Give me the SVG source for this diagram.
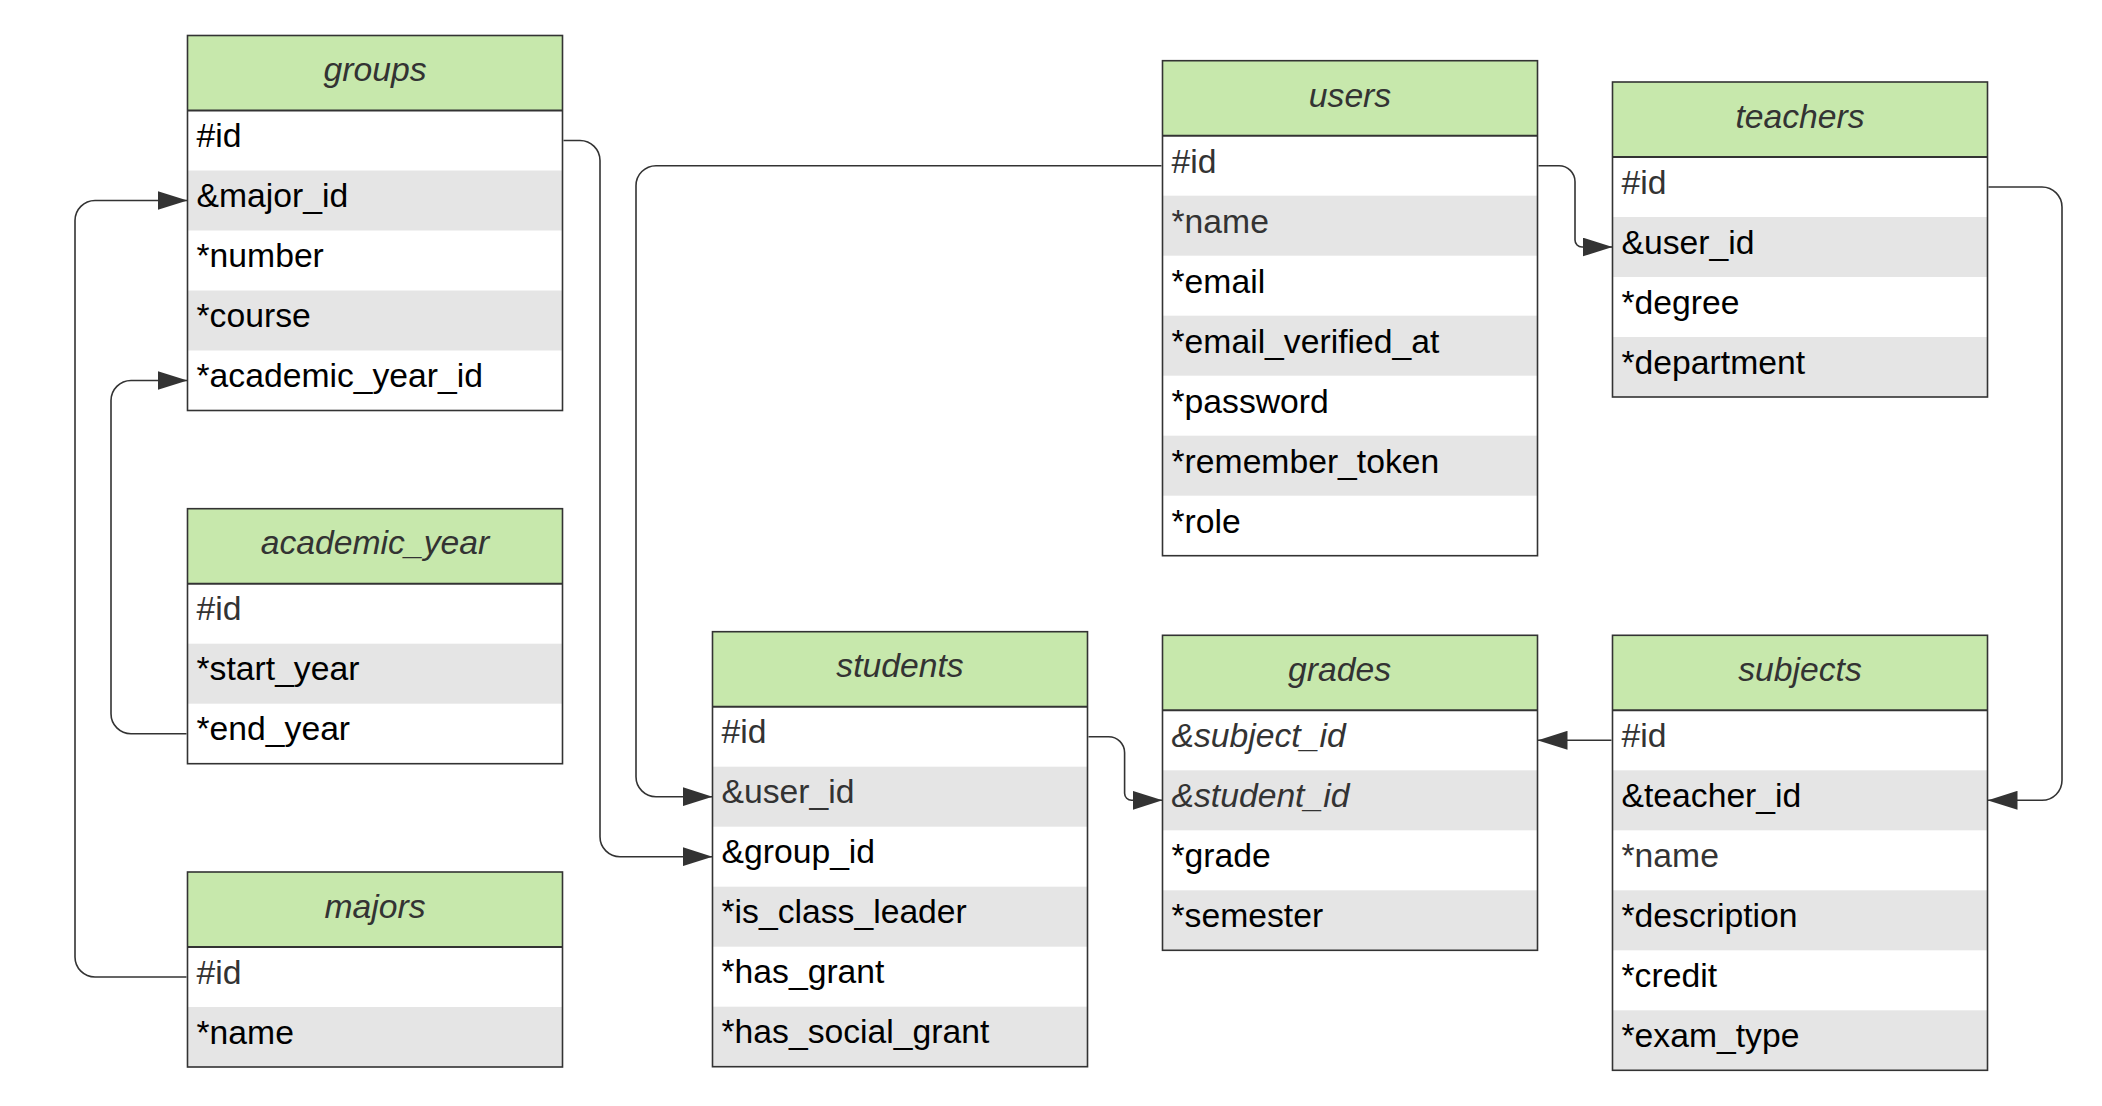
<svg xmlns="http://www.w3.org/2000/svg" width="2102" height="1106" viewBox="0 0 2102 1106">
<defs>
<style>
.bg{fill:#fff}
.hdr{fill:#c7e8ac}
.alt{fill:#e5e5e5}
.frame{fill:none;stroke:#333;stroke-width:1.6}
.sep{stroke:#333;stroke-width:2}
.title{font-family:"Liberation Sans",Arial,sans-serif;font-size:33.7px;font-style:italic;fill:#333;text-anchor:middle}
.f{font-family:"Liberation Sans",Arial,sans-serif;font-size:33.7px;fill:#000}
.g{fill:#333}
.it{font-style:italic}
.conn{fill:none;stroke:#333;stroke-width:1.6}
</style>
<marker id="arr" markerUnits="userSpaceOnUse" markerWidth="30" markerHeight="19" viewBox="0 0 30 19" refX="30" refY="9.5" orient="auto">
<path d="M0,0 L30,9.5 L0,19 z" fill="#333"/>
</marker>
</defs>
<rect width="2102" height="1106" fill="#fff"/>

<g id="groups" transform="translate(187.5,35.5)">
<rect class="bg" width="375" height="375"/>
<rect class="hdr" width="375" height="75"/>
<rect class="alt" y="135" width="375" height="60"/>
<rect class="alt" y="255" width="375" height="60"/>
<line class="sep" x1="0" y1="75" x2="375" y2="75"/>
<rect class="frame" width="375" height="375"/>
<text class="title" x="187.5" y="45.5">groups</text>
<text class="f" x="9" y="111.7">#id</text>
<text class="f" x="9" y="171.7">&amp;major_id</text>
<text class="f" x="9" y="231.7">*number</text>
<text class="f" x="9" y="291.7">*course</text>
<text class="f" x="9" y="351.7">*academic_year_id</text>
</g>

<g id="academic_year" transform="translate(187.5,508.7)">
<rect class="bg" width="375" height="255"/>
<rect class="hdr" width="375" height="75"/>
<rect class="alt" y="135" width="375" height="60"/>
<line class="sep" x1="0" y1="75" x2="375" y2="75"/>
<rect class="frame" width="375" height="255"/>
<text class="title" x="187.5" y="45.5">academic_year</text>
<text class="f g" x="9" y="111.7">#id</text>
<text class="f" x="9" y="171.7">*start_year</text>
<text class="f" x="9" y="231.7">*end_year</text>
</g>

<g id="majors" transform="translate(187.5,872)">
<rect class="bg" width="375" height="195"/>
<rect class="hdr" width="375" height="75"/>
<rect class="alt" y="135" width="375" height="60"/>
<line class="sep" x1="0" y1="75" x2="375" y2="75"/>
<rect class="frame" width="375" height="195"/>
<text class="title" x="187.5" y="45.5">majors</text>
<text class="f g" x="9" y="111.7">#id</text>
<text class="f" x="9" y="171.7">*name</text>
</g>

<g id="students" transform="translate(712.5,631.7)">
<rect class="bg" width="375" height="435"/>
<rect class="hdr" width="375" height="75"/>
<rect class="alt" y="135" width="375" height="60"/>
<rect class="alt" y="255" width="375" height="60"/>
<rect class="alt" y="375" width="375" height="60"/>
<line class="sep" x1="0" y1="75" x2="375" y2="75"/>
<rect class="frame" width="375" height="435"/>
<text class="title" x="187.5" y="45.5">students</text>
<text class="f g" x="9" y="111.7">#id</text>
<text class="f g" x="9" y="171.7">&amp;user_id</text>
<text class="f" x="9" y="231.7">&amp;group_id</text>
<text class="f" x="9" y="291.7">*is_class_leader</text>
<text class="f" x="9" y="351.7">*has_grant</text>
<text class="f" x="9" y="411.7">*has_social_grant</text>
</g>

<g id="users" transform="translate(1162.5,60.7)">
<rect class="bg" width="375" height="495"/>
<rect class="hdr" width="375" height="75"/>
<rect class="alt" y="135" width="375" height="60"/>
<rect class="alt" y="255" width="375" height="60"/>
<rect class="alt" y="375" width="375" height="60"/>
<line class="sep" x1="0" y1="75" x2="375" y2="75"/>
<rect class="frame" width="375" height="495"/>
<text class="title" x="187.5" y="46">users</text>
<text class="f g" x="9" y="112.2">#id</text>
<text class="f g" x="9" y="172.2">*name</text>
<text class="f" x="9" y="232.2">*email</text>
<text class="f" x="9" y="292.2">*email_verified_at</text>
<text class="f" x="9" y="352.2">*password</text>
<text class="f" x="9" y="412.2">*remember_token</text>
<text class="f" x="9" y="472.2">*role</text>
</g>

<g id="teachers" transform="translate(1612.5,82)">
<rect class="bg" width="375" height="315"/>
<rect class="hdr" width="375" height="75"/>
<rect class="alt" y="135" width="375" height="60"/>
<rect class="alt" y="255" width="375" height="60"/>
<line class="sep" x1="0" y1="75" x2="375" y2="75"/>
<rect class="frame" width="375" height="315"/>
<text class="title" x="187.5" y="46">teachers</text>
<text class="f g" x="9" y="112.2">#id</text>
<text class="f" x="9" y="172.2">&amp;user_id</text>
<text class="f" x="9" y="232.2">*degree</text>
<text class="f" x="9" y="292.2">*department</text>
</g>

<g id="grades" transform="translate(1162.5,635.3)">
<rect class="bg" width="375" height="315"/>
<rect class="hdr" width="375" height="75"/>
<rect class="alt" y="135" width="375" height="60"/>
<rect class="alt" y="255" width="375" height="60"/>
<line class="sep" x1="0" y1="75" x2="375" y2="75"/>
<rect class="frame" width="375" height="315"/>
<text class="title" x="177" y="45.5">grades</text>
<text class="f g it" x="9" y="111.7">&amp;subject_id</text>
<text class="f g it" x="9" y="171.7">&amp;student_id</text>
<text class="f" x="9" y="231.7">*grade</text>
<text class="f" x="9" y="291.7">*semester</text>
</g>

<g id="subjects" transform="translate(1612.5,635.3)">
<rect class="bg" width="375" height="435"/>
<rect class="hdr" width="375" height="75"/>
<rect class="alt" y="135" width="375" height="60"/>
<rect class="alt" y="255" width="375" height="60"/>
<rect class="alt" y="375" width="375" height="60"/>
<line class="sep" x1="0" y1="75" x2="375" y2="75"/>
<rect class="frame" width="375" height="435"/>
<text class="title" x="187.5" y="45.5">subjects</text>
<text class="f g" x="9" y="111.7">#id</text>
<text class="f" x="9" y="171.7">&amp;teacher_id</text>
<text class="f g" x="9" y="231.7">*name</text>
<text class="f" x="9" y="291.7">*description</text>
<text class="f" x="9" y="351.7">*credit</text>
<text class="f" x="9" y="411.7">*exam_type</text>
</g>

<g id="connectors">
<path class="conn" marker-end="url(#arr)" d="M186.5,977 H95 A20,20 0 0 1 75,957 V220.5 A20,20 0 0 1 95,200.5 H187.5"/>
<path class="conn" marker-end="url(#arr)" d="M186.5,733.7 H131 A20,20 0 0 1 111,713.7 V400.5 A20,20 0 0 1 131,380.5 H187.5"/>
<path class="conn" marker-end="url(#arr)" d="M563.5,140.5 H580 A20,20 0 0 1 600,160.5 V836.7 A20,20 0 0 0 620,856.7 H712.5"/>
<path class="conn" marker-end="url(#arr)" d="M1161.5,165.7 H656 A20,20 0 0 0 636,185.7 V776.7 A20,20 0 0 0 656,796.7 H712.5"/>
<path class="conn" marker-end="url(#arr)" d="M1538.5,165.7 H1559 A16,16 0 0 1 1575,181.7 V240 A7,7 0 0 0 1582,247 H1612.5"/>
<path class="conn" marker-end="url(#arr)" d="M1088.5,736.7 H1108.6 A16,16 0 0 1 1124.6,752.7 V793.3 A7,7 0 0 0 1131.6,800.3 H1162.5"/>
<path class="conn" marker-end="url(#arr)" d="M1988.5,187 H2042 A20,20 0 0 1 2062,207 V780.3 A20,20 0 0 1 2042,800.3 H1987.5"/>
<path class="conn" marker-end="url(#arr)" d="M1611.5,740.3 H1537.5"/>
</g>
</svg>
